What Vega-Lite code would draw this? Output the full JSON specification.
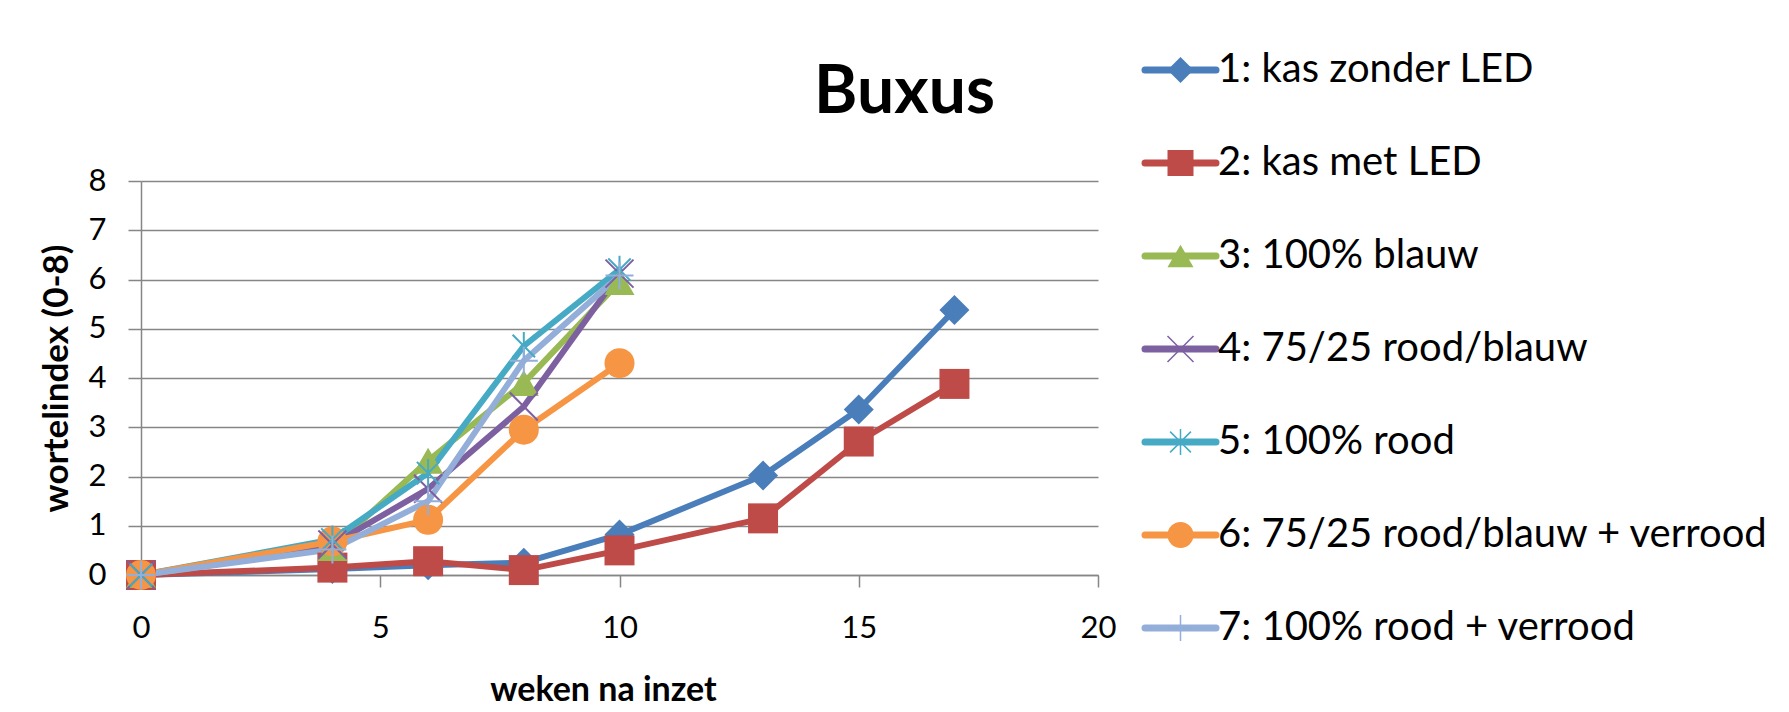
{
  "$schema": "https://vega.github.io/schema/vega-lite/v6.json",
  "padding": {"left": 39, "top": 50, "right": 5, "bottom": 0},
  "background": "white",
  "config": {"font": "Lato", "view": {"stroke": null}, "concat": {"spacing": 25}},
  "datasets": {
    "buxus": [
      {"series": "1: kas zonder LED", "week": 0, "index": 0},
      {"series": "1: kas zonder LED", "week": 4, "index": 0.12},
      {"series": "1: kas zonder LED", "week": 6, "index": 0.2},
      {"series": "1: kas zonder LED", "week": 8, "index": 0.25},
      {"series": "1: kas zonder LED", "week": 10, "index": 0.82},
      {"series": "1: kas zonder LED", "week": 13, "index": 2.02},
      {"series": "1: kas zonder LED", "week": 15, "index": 3.36},
      {"series": "1: kas zonder LED", "week": 17, "index": 5.38},
      {"series": "2: kas met LED", "week": 0, "index": 0},
      {"series": "2: kas met LED", "week": 4, "index": 0.15},
      {"series": "2: kas met LED", "week": 6, "index": 0.28},
      {"series": "2: kas met LED", "week": 8, "index": 0.1},
      {"series": "2: kas met LED", "week": 10, "index": 0.5},
      {"series": "2: kas met LED", "week": 13, "index": 1.15},
      {"series": "2: kas met LED", "week": 15, "index": 2.71},
      {"series": "2: kas met LED", "week": 17, "index": 3.88},
      {"series": "3: 100% blauw", "week": 0, "index": 0},
      {"series": "3: 100% blauw", "week": 4, "index": 0.55},
      {"series": "3: 100% blauw", "week": 6, "index": 2.32},
      {"series": "3: 100% blauw", "week": 8, "index": 3.9},
      {"series": "3: 100% blauw", "week": 10, "index": 5.95},
      {"series": "4: 75/25 rood/blauw", "week": 0, "index": 0},
      {"series": "4: 75/25 rood/blauw", "week": 4, "index": 0.62},
      {"series": "4: 75/25 rood/blauw", "week": 6, "index": 1.75},
      {"series": "4: 75/25 rood/blauw", "week": 8, "index": 3.42},
      {"series": "4: 75/25 rood/blauw", "week": 10, "index": 6.12},
      {"series": "5: 100% rood", "week": 0, "index": 0},
      {"series": "5: 100% rood", "week": 4, "index": 0.72},
      {"series": "5: 100% rood", "week": 6, "index": 2.07},
      {"series": "5: 100% rood", "week": 8, "index": 4.65},
      {"series": "5: 100% rood", "week": 10, "index": 6.2},
      {"series": "6: 75/25 rood/blauw + verrood", "week": 0, "index": 0},
      {"series": "6: 75/25 rood/blauw + verrood", "week": 4, "index": 0.68},
      {"series": "6: 75/25 rood/blauw + verrood", "week": 6, "index": 1.12},
      {"series": "6: 75/25 rood/blauw + verrood", "week": 8, "index": 2.95},
      {"series": "6: 75/25 rood/blauw + verrood", "week": 10, "index": 4.3},
      {"series": "7: 100% rood + verrood", "week": 0, "index": 0},
      {"series": "7: 100% rood + verrood", "week": 4, "index": 0.52},
      {"series": "7: 100% rood + verrood", "week": 6, "index": 1.5},
      {"series": "7: 100% rood + verrood", "week": 8, "index": 4.35},
      {"series": "7: 100% rood + verrood", "week": 10, "index": 6.08}
    ]
  },
  "hconcat": [
    {
      "width": 957,
      "height": 394,
      "title": {"text": "Buxus", "fontSize": 66, "fontWeight": "bold", "font": "Lato", "color": "black", "anchor": "middle", "dx": 285, "baseline": "bottom", "offset": -28},
      "data": {"name": "buxus"},
      "encoding": {
        "x": {"field": "week", "type": "quantitative", "scale": {"domain": [0, 20], "nice": false, "zero": false},
          "axis": {"values": [0, 5, 10, 15, 20], "grid": false, "labelFlush": false, "domainColor": "#868686", "domainWidth": 1.5, "tickColor": "#868686", "tickWidth": 1.5, "tickSize": 12, "labelFontSize": 31, "labelColor": "black", "labelPadding": 26, "labelFont": "Lato", "title": "weken na inzet", "titleFont": "Lato", "titleFontSize": 34, "titleFontWeight": "bold", "titleColor": "black", "titlePadding": 30, "titleX": 462}},
        "y": {"field": "index", "type": "quantitative", "scale": {"domain": [0, 8], "nice": false},
          "axis": {"values": [0, 1, 2, 3, 4, 5, 6, 7, 8], "grid": true, "labelFlush": false, "gridColor": "#868686", "gridWidth": 1.5, "domainColor": "#868686", "domainWidth": 1.5, "tickColor": "#868686", "tickWidth": 1.5, "tickSize": 13, "labelFontSize": 31, "labelColor": "black", "labelPadding": 22, "labelFont": "Lato", "title": "wortelindex (0-8)", "titleFont": "Lato", "titleFontSize": 35, "titleFontWeight": "bold", "titleColor": "black", "titlePadding": 14}},
        "color": {"field": "series", "type": "nominal",
          "scale": {"domain": ["1: kas zonder LED", "2: kas met LED", "3: 100% blauw", "4: 75/25 rood/blauw", "5: 100% rood", "6: 75/25 rood/blauw + verrood", "7: 100% rood + verrood"],
                    "range": ["#4A7EBB", "#BE4B48", "#98B954", "#7D60A0", "#46AAC5", "#F69544", "#93AED8"]},
          "legend": null}
      },
      "layer": [
        {"mark": {"type": "line", "strokeWidth": 6, "strokeCap": "round", "strokeJoin": "round"}},
        {"transform": [{"filter": {"field": "series", "oneOf": ["1: kas zonder LED", "2: kas met LED", "3: 100% blauw", "6: 75/25 rood/blauw + verrood"]}}],
         "mark": {"type": "point", "filled": true, "size": 900, "opacity": 1, "strokeWidth": 0},
         "encoding": {"shape": {"field": "series", "type": "nominal",
           "scale": {"domain": ["1: kas zonder LED", "2: kas met LED", "3: 100% blauw", "4: 75/25 rood/blauw", "5: 100% rood", "6: 75/25 rood/blauw + verrood", "7: 100% rood + verrood"],
                     "range": ["diamond", "square", "triangle-up", "M-1,-1L1,1M-1,1L1,-1", "M-0.8,-0.8L0.8,0.8M-0.8,0.8L0.8,-0.8M0,-1L0,1", "circle", "M-1,0L1,0M0,-1L0,1"]},
           "legend": null}}},
        {"transform": [{"filter": {"field": "series", "oneOf": ["4: 75/25 rood/blauw", "5: 100% rood", "7: 100% rood + verrood"]}}],
         "mark": {"type": "point", "filled": false, "size": 784, "opacity": 1, "strokeWidth": 2},
         "encoding": {"shape": {"field": "series", "type": "nominal",
           "scale": {"domain": ["1: kas zonder LED", "2: kas met LED", "3: 100% blauw", "4: 75/25 rood/blauw", "5: 100% rood", "6: 75/25 rood/blauw + verrood", "7: 100% rood + verrood"],
                     "range": ["diamond", "square", "triangle-up", "M-1,-1L1,1M-1,1L1,-1", "M-0.8,-0.8L0.8,0.8M-0.8,0.8L0.8,-0.8M0,-1L0,1", "circle", "M-1,0L1,0M0,-1L0,1"]},
           "legend": null}}}
      ]
    },
    {
      "width": 600,
      "height": 394,
      "data": {"name": "buxus"},
      "transform": [{"aggregate": [{"op": "count", "as": "n"}], "groupby": ["series"]}],
      "encoding": {
        "y": {"field": "series", "type": "nominal", "scale": {"type": "point", "padding": 0, "range": [-111, 447], "domain": ["1: kas zonder LED", "2: kas met LED", "3: 100% blauw", "4: 75/25 rood/blauw", "5: 100% rood", "6: 75/25 rood/blauw + verrood", "7: 100% rood + verrood"]}, "axis": null},
        "color": {"field": "series", "type": "nominal",
          "scale": {"domain": ["1: kas zonder LED", "2: kas met LED", "3: 100% blauw", "4: 75/25 rood/blauw", "5: 100% rood", "6: 75/25 rood/blauw + verrood", "7: 100% rood + verrood"],
                    "range": ["#4A7EBB", "#BE4B48", "#98B954", "#7D60A0", "#46AAC5", "#F69544", "#93AED8"]},
          "legend": null}
      },
      "layer": [
        {"mark": {"type": "rule", "strokeWidth": 7, "strokeCap": "round"},
         "encoding": {"x": {"datum": 0, "type": "quantitative", "scale": {"domain": [0, 600], "nice": false, "zero": false}, "axis": null}, "x2": {"datum": 71}}},
        {"transform": [{"filter": {"field": "series", "oneOf": ["1: kas zonder LED", "2: kas met LED", "3: 100% blauw", "6: 75/25 rood/blauw + verrood"]}}],
         "mark": {"type": "point", "filled": true, "size": 676, "opacity": 1, "strokeWidth": 0},
         "encoding": {"x": {"datum": 35.5, "type": "quantitative"}, "shape": {"field": "series", "type": "nominal",
           "scale": {"domain": ["1: kas zonder LED", "2: kas met LED", "3: 100% blauw", "4: 75/25 rood/blauw", "5: 100% rood", "6: 75/25 rood/blauw + verrood", "7: 100% rood + verrood"],
                     "range": ["diamond", "square", "triangle-up", "M-1,-1L1,1M-1,1L1,-1", "M-0.8,-0.8L0.8,0.8M-0.8,0.8L0.8,-0.8M0,-1L0,1", "circle", "M-1,0L1,0M0,-1L0,1"]},
           "legend": null}}},
        {"transform": [{"filter": {"field": "series", "oneOf": ["4: 75/25 rood/blauw", "5: 100% rood", "7: 100% rood + verrood"]}}],
         "mark": {"type": "point", "filled": false, "size": 676, "opacity": 1, "strokeWidth": 1.5},
         "encoding": {"x": {"datum": 35.5, "type": "quantitative"}, "shape": {"field": "series", "type": "nominal",
           "scale": {"domain": ["1: kas zonder LED", "2: kas met LED", "3: 100% blauw", "4: 75/25 rood/blauw", "5: 100% rood", "6: 75/25 rood/blauw + verrood", "7: 100% rood + verrood"],
                     "range": ["diamond", "square", "triangle-up", "M-1,-1L1,1M-1,1L1,-1", "M-0.8,-0.8L0.8,0.8M-0.8,0.8L0.8,-0.8M0,-1L0,1", "circle", "M-1,0L1,0M0,-1L0,1"]},
           "legend": null}}},
        {"mark": {"type": "text", "align": "left", "baseline": "middle", "fontSize": 40, "font": "Lato"},
         "encoding": {"x": {"datum": 73, "type": "quantitative"}, "text": {"field": "series"}, "color": {"value": "black"}}}
      ]
    }
  ]
}
